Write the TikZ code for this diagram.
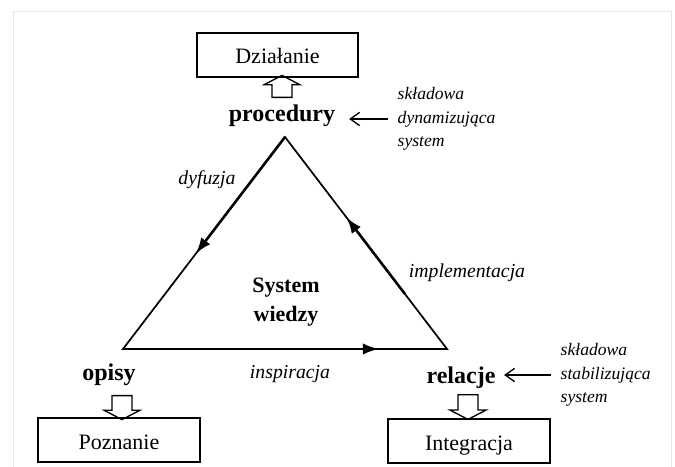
\documentclass[tikz,border=0pt]{standalone}
\usepackage{fontspec}
\setmainfont{Liberation Serif}
\usetikzlibrary{calc, positioning, arrows.meta, shapes.arrows}
\tikzset{
    box/.style={rectangle, draw, line width=1.3pt, minimum width=121pt, minimum height=33pt, text height=14.5pt, text depth=1pt, font=\fontsize{16.5}{19}\selectfont},
    term/.style={font=\bfseries\fontsize{18}{21}\selectfont},
    edgelabel/.style={font=\itshape\fontsize{14.8}{17}\selectfont},
    note/.style={anchor=west, align=left, font=\itshape\fontsize{13.2}{17.6}\selectfont},
    flow/.style={line width=1.9pt, -{Latex[length=12pt,width=8.5pt]}},
    pointer/.style={line width=1pt, -{Straight Barb[length=7pt,width=10pt]}},
    hollow/.style={single arrow, draw, line width=1pt, inner xsep=0pt, inner ysep=7pt, single arrow head extend=6pt, single arrow tip angle=125}
}
\begin{document}
\begin{tikzpicture}[x=0.75pt, y=-0.75pt]
                        \useasboundingbox (0,0) rectangle (675,467);
                        \draw[gray!20, line width=0.75pt] (13,467) -- (13,12) -- (671,12) -- (671,467);

                        \node[box] (act) at (277.5,55) {Działanie};
                        \node[term] (proc) at (282,116) {procedury};
                        \node[note] (dyn) at (393,119) {składowa\\dynamizująca\\system};
                        \node[hollow, rotate=90, minimum height=16.5pt] (up) at (282,89) {};

                        \coordinate (apex) at (285,137);
                        \coordinate (bl) at (123,349);
                        \coordinate (br) at (447,349);
                        \draw[line width=1.3pt, line join=miter] (apex) -- (bl) -- (br) -- cycle;
                        \draw[flow] (apex) -- ($(apex)!0.55!(bl)$);
                        \draw[flow] ($(br)!0.26!(apex)$) -- ($(br)!0.62!(apex)$);
                        \draw[flow] ($(bl)!0.17!(br)$) -- ($(bl)!0.79!(br)$);

                        \node[term, font=\bfseries\fontsize{16.5}{22}\selectfont, align=center] (sys) at (286,302) {System\\wiedzy};
                        \node[edgelabel] (dyf) at (207,180) {dyfuzja};
                        \node[edgelabel] (impl) at (467,273) {implementacja};
                        \node[edgelabel] (insp) at (290,374) {inspiracja};

                        \node[term] (opis) at (109,375) {opisy};
                        \node[hollow, rotate=-90, minimum height=18pt] (down1) at (122,405) {};
                        \node[box] (pozn) at (119,440) {Poznanie};

                        \node[term] (rel) at (461,378) {relacje};
                        \node[note] (stab) at (556,375) {składowa\\stabilizująca\\system};
                        \node[hollow, rotate=-90, minimum height=18.5pt] (down2) at (468,404.5) {};
                        \node[box] (integ) at (469,441) {Integracja};

                        \draw[pointer] ([xshift=-4pt]dyn.west) -- ([xshift=7pt]proc.east |- dyn.west);
                        \draw[pointer] ([xshift=-4pt]stab.west) -- ([xshift=3pt]rel.east |- stab.west);
                    \end{tikzpicture}
\end{document}
